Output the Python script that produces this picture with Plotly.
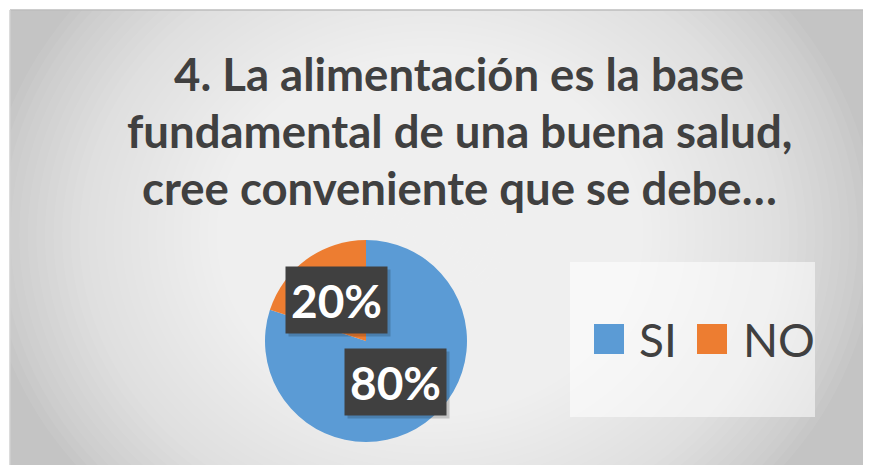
import math
import plotly.graph_objects as go

# page has an 8px body margin before the figure
OFF = 8
W, H = 871, 465

title_lines = ["4. La alimentación es la base",
               "fundamental de una buena salud,",
               "cree conveniente que se debe…"]
categories = ["SI", "NO"]
values = [80, 20]
colors = ["#5B9BD5", "#ED7D31"]

FONT = "Lato, sans-serif"


def px(x):
    return (x - OFF) / W


def py(y):
    return 1 - (y - OFF) / H


fig = go.Figure()

# pie geometry (screen pixels)
cx, cy, R = 366, 341, 101
fig.add_trace(go.Pie(
    labels=categories, values=values, sort=False, direction="clockwise",
    rotation=0, marker=dict(colors=colors, line=dict(width=0)),
    textinfo="none", hoverinfo="label+percent", showlegend=False,
    domain=dict(x=[px(cx - R), px(cx + R)], y=[py(cy + R), py(cy - R)]),
))

shapes = []
# chart area background with radial-ish gradient
shapes.append(dict(type="rect", xref="paper", yref="paper", x0=px(10), x1=1.01,
                   y0=-0.01, y1=py(10), fillcolor="#c4c4c4",
                   line=dict(width=0), layer="below"))
gx, gy = 430, 235
N = 52
for i in range(N):
    f = 1 - i / N
    rx, ry = 445 * f, 380 * f
    shapes.append(dict(type="circle", xref="paper", yref="paper",
                       x0=px(gx - rx), x1=px(gx + rx), y0=py(gy + ry), y1=py(gy - ry),
                       fillcolor="rgba(255,255,255,0.057)", line=dict(width=0),
                       layer="below"))
# white margin cover on top/left
shapes.append(dict(type="rect", xref="paper", yref="paper", x0=-0.02, x1=1.02, y0=py(9.5), y1=1.02,
                   fillcolor="white", line=dict(width=0), layer="below"))
shapes.append(dict(type="rect", xref="paper", yref="paper", x0=-0.02, x1=px(9.5), y0=-0.02, y1=1.02,
                   fillcolor="white", line=dict(width=0), layer="below"))
shapes.append(dict(type="line", xref="paper", yref="paper", x0=px(10), x1=1.01, y0=py(10), y1=py(10),
                   line=dict(color="#bdbdbd", width=1.5), layer="below"))
shapes.append(dict(type="line", xref="paper", yref="paper", x0=px(10), x1=px(10), y0=-0.01, y1=py(10),
                   line=dict(color="#d0d0d0", width=1.5), layer="below"))

# legend box
shapes.append(dict(type="rect", xref="paper", yref="paper", x0=px(570), x1=px(815),
                   y0=py(417), y1=py(262), fillcolor="rgba(255,255,255,0.55)",
                   line=dict(width=0), layer="below"))

annotations = []
title_y = [73, 130, 187]
for t, ty in zip(title_lines, title_y):
    annotations.append(dict(text="<b>%s</b>" % t,
                            xref="paper", yref="paper", x=px(459), y=py(ty),
                            xanchor="center", yanchor="middle", showarrow=False,
                            font=dict(family=FONT, size=45.5, color="#404040")))

# data labels placed at half radius along the slice mid-angle
total = sum(values)
cum = 0
for cat, v in zip(categories, values):
    mid = (cum + v / 2) / total * 2 * math.pi
    cum += v
    lx = cx + 0.5 * R * math.sin(mid)
    ly = cy - 0.5 * R * math.cos(mid)
    # soft shadow
    annotations.append(dict(text=" ", xref="paper", yref="paper", x=px(lx + 3), y=py(ly + 3),
                            xanchor="center", yanchor="middle", showarrow=False,
                            font=dict(family=FONT, size=46), bgcolor="rgba(0,0,0,0.18)",
                            width=97, height=62, borderpad=2))
    annotations.append(dict(text="<b>%d%%</b>" % round(100 * v / total),
                            xref="paper", yref="paper", x=px(lx), y=py(ly),
                            xanchor="center", yanchor="middle", showarrow=False,
                            font=dict(family=FONT, size=46, color="white"),
                            bgcolor="#404040", width=97, height=62, borderpad=2))

# custom legend
leg_x = [594, 697]
text_x = [637, 741]
for cat, col, sx, tx in zip(categories, colors, leg_x, text_x):
    shapes.append(dict(type="rect", xref="paper", yref="paper", x0=px(sx), x1=px(sx + 30),
                       y0=py(354), y1=py(324), fillcolor=col, line=dict(width=0)))
    annotations.append(dict(text=cat, xref="paper", yref="paper", x=px(tx), y=py(339),
                            xanchor="left", yanchor="middle", showarrow=False,
                            font=dict(family=FONT, size=46, color="#404040")))

fig.update_layout(width=W, height=H, margin=dict(l=0, r=0, t=0, b=0),
                  paper_bgcolor="white", plot_bgcolor="white",
                  shapes=shapes, annotations=annotations)

fig.write_html("out.html")
